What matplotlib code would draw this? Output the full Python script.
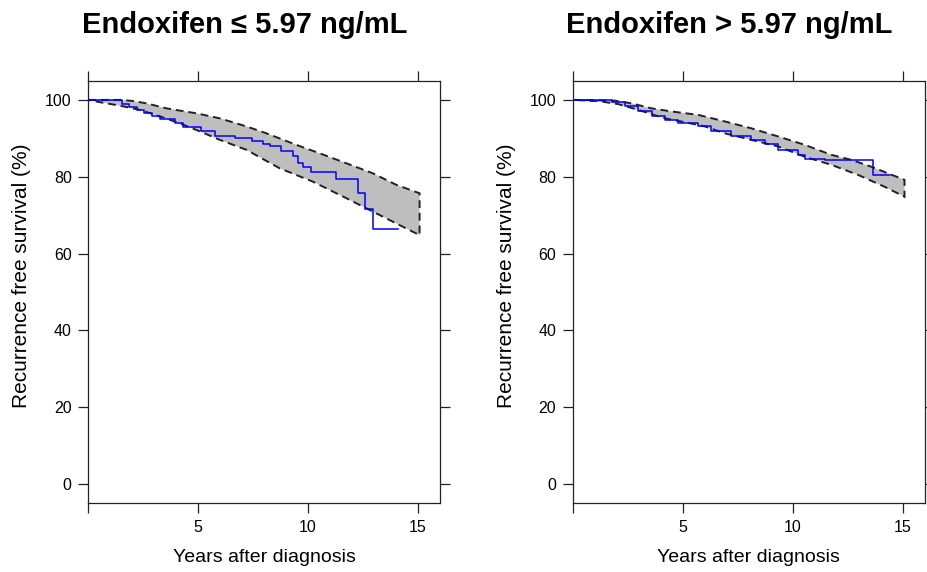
import numpy as np
import matplotlib
matplotlib.use("Agg")
import matplotlib.pyplot as plt

plt.rcParams['font.family'] = ['Liberation Sans', 'DejaVu Sans']

# ---- data ----
titles = ["Endoxifen \u2264 5.97 ng/mL", "Endoxifen > 5.97 ng/mL"]
ylabel = "Recurrence free survival (%)"
xlabel = "Years after diagnosis"

# left panel: Kaplan-Meier steps (time where value starts, survival %)
km_t_low = [0, 1.52, 1.85, 2.2, 2.55, 2.9, 3.26, 3.94, 4.32, 5.15, 5.76, 6.67,
            7.43, 7.96, 8.26, 8.79, 9.32, 9.55, 9.77, 10.15, 11.29, 12.27,
            12.58, 12.95, 14.09]
km_s_low = [100, 98.9, 98.2, 97.4, 96.6, 95.9, 95.0, 93.9, 92.9, 91.9, 90.7,
            90.0, 89.4, 88.5, 88.0, 86.7, 85.5, 83.5, 82.5, 81.3, 79.3, 75.7,
            71.5, 66.4, 66.4]
# left panel: confidence band
up_t_low = [0, 1.52, 2.05, 2.65, 3.56, 4.93, 5.99, 7.2, 8.11, 9.47, 10.53,
            11.75, 12.95, 14.02, 15.08]
up_s_low = [100, 100, 99.7, 99.1, 97.8, 96.5, 95.2, 93.1, 91.3, 88.3, 86.1,
            83.5, 80.9, 77.9, 75.7]
lo_t_low = [0, 0.53, 1.44, 2.35, 3.26, 4.17, 5.08, 5.99, 7.2, 8.71, 10.23,
            11.75, 12.65, 13.86, 15.08]
lo_s_low = [100, 99.4, 98.5, 97.4, 95.7, 93.9, 91.8, 89.6, 87.0, 82.2, 78.7,
            74.4, 71.8, 68.3, 64.8]

# right panel
km_t_high = [0, 1.76, 2.36, 2.97, 3.58, 4.18, 4.79, 5.7, 6.3, 7.21, 8.12, 8.73,
             9.33, 10.24, 10.55, 11.45, 13.65, 14.41]
km_s_high = [100, 99.4, 98.3, 97.1, 95.9, 94.8, 93.9, 93.1, 91.8, 90.5, 89.6,
             88.5, 87.0, 85.7, 84.6, 84.4, 80.5, 80.5]
up_t_high = [0, 1.91, 2.67, 3.58, 4.48, 5.7, 6.91, 8.12, 9.33, 10.55, 11.76,
             12.67, 13.58, 15.09]
up_s_high = [100, 99.8, 99.1, 97.8, 97.0, 96.1, 94.4, 92.6, 90.5, 88.3, 85.7,
             84.4, 82.6, 79.2]
lo_t_high = [0, 1.15, 2.06, 2.97, 4.18, 5.09, 6.0, 6.91, 8.12, 9.33, 10.55,
             11.76, 12.97, 14.18, 15.09]
lo_s_high = [100, 99.7, 98.9, 97.4, 95.2, 94.2, 93.1, 91.3, 89.6, 87.9, 85.2,
             83.1, 80.5, 77.4, 74.8]

panels = [
    (km_t_low, km_s_low, up_t_low, up_s_low, lo_t_low, lo_s_low),
    (km_t_high, km_s_high, up_t_high, up_s_high, lo_t_high, lo_s_high),
]

fig = plt.figure(figsize=(9.27, 5.72), dpi=100)
W, H = 927, 572
ax_left_px = [88.3, 573]
title_x_px = [245, 729]

for i, (kt, ks, ut, us, lt, ls) in enumerate(panels):
    x0 = ax_left_px[i]
    ax = fig.add_axes([x0 / W, 1 - 503.3 / H, 351.5 / W, (503.3 - 80.7) / H])

    # confidence band
    poly_t = np.concatenate([ut, lt[::-1]])
    poly_s = np.concatenate([us, ls[::-1]])
    ax.fill(poly_t, poly_s, facecolor='#bebebe', edgecolor='#222222',
            linestyle=(0, (4, 2.5)), linewidth=1.4, zorder=1)
    # KM curve
    ax.step(kt, ks, where='post', color='blue', linewidth=1.1, zorder=3)

    ax.set_xlim(0, 16)
    ax.set_ylim(-5, 105)
    ax.set_xticks([0, 5, 10, 15])
    ax.set_xticklabels(['', '5', '10', '15'])
    ax.set_yticks([0, 20, 40, 60, 80, 100])
    ax.tick_params(direction='out', length=7, width=0.9, color='#222222',
                   labelsize=11.5, pad=5, top=True, right=True)
    for sp in ax.spines.values():
        sp.set_linewidth(0.9)
        sp.set_color('#222222')

    fig.text(title_x_px[i] / W, 1 - 33 / H, titles[i], fontsize=21,
             fontweight='bold', ha='center', va='baseline')
    fig.text((x0 - 66.6) / W, 1 - 276 / H, ylabel, fontsize=15,
             rotation=90, ha='center', va='center')
    fig.text((x0 + 175.7) / W, 1 - 558 / H, xlabel, fontsize=14,
             ha='center', va='center')

fig.savefig('out.png', dpi=100)
